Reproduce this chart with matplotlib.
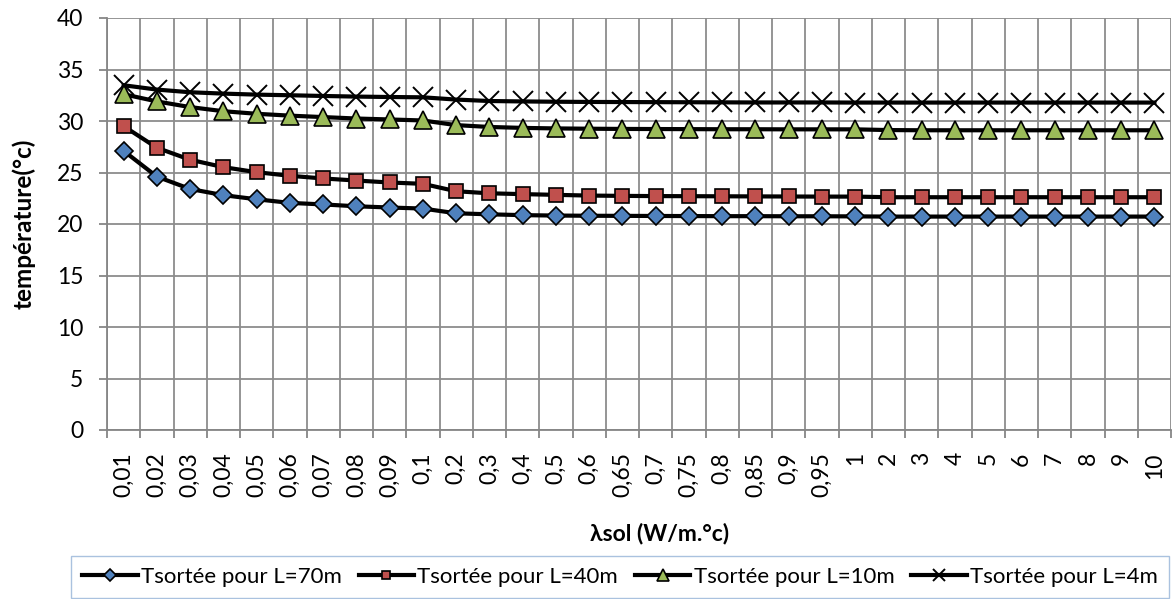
import matplotlib.pyplot as plt
import numpy as np

plt.rcParams['font.family'] = ['Lato', 'DejaVu Sans']

# Catégories (conductivité du sol)
categories = ['0,01', '0,02', '0,03', '0,04', '0,05', '0,06', '0,07', '0,08', '0,09', '0,1',
              '0,2', '0,3', '0,4', '0,5', '0,6', '0,65', '0,7', '0,75', '0,8', '0,85', '0,9', '0,95',
              '1', '2', '3', '4', '5', '6', '7', '8', '9', '10']

# Températures de sortie
t_70m = [27.1, 24.6, 23.4, 22.8, 22.4, 22.05, 21.9, 21.72, 21.6, 21.5,
         21.04, 20.94, 20.86, 20.82, 20.8, 20.79, 20.78, 20.77, 20.76, 20.76, 20.75, 20.75,
         20.74, 20.72, 20.72, 20.72, 20.72, 20.72, 20.72, 20.72, 20.72, 20.72]
t_40m = [29.5, 27.4, 26.24, 25.52, 25.03, 24.68, 24.42, 24.22, 24.03, 23.9,
         23.18, 22.98, 22.9, 22.83, 22.76, 22.73, 22.71, 22.7, 22.69, 22.68, 22.67, 22.66,
         22.66, 22.6, 22.6, 22.6, 22.6, 22.6, 22.6, 22.6, 22.6, 22.6]
t_10m = [32.6, 31.9, 31.35, 30.95, 30.7, 30.52, 30.38, 30.24, 30.15, 30.05,
         29.6, 29.42, 29.33, 29.28, 29.25, 29.23, 29.22, 29.21, 29.2, 29.2, 29.19, 29.19,
         29.19, 29.12, 29.1, 29.1, 29.1, 29.1, 29.1, 29.1, 29.1, 29.1]
t_4m = [33.47, 33.05, 32.79, 32.66, 32.56, 32.5, 32.43, 32.37, 32.33, 32.3,
        32.08, 31.94, 31.9, 31.87, 31.85, 31.84, 31.83, 31.82, 31.81, 31.8, 31.8, 31.8,
        31.79, 31.79, 31.79, 31.79, 31.79, 31.79, 31.79, 31.79, 31.79, 31.79]

x = np.arange(len(categories))

W, H = 1172, 599
fig = plt.figure(figsize=(W / 100, H / 100), dpi=100)
ax = fig.add_axes([107 / W, 1 - 430 / H, (1171 - 107) / W, (430 - 18) / H])

ax.plot(x, t_70m, color='black', lw=3, marker='D', ms=9.5, mfc='#4F81BD', mec='black', mew=1.2,
        label='Tsortée pour L=70m', zorder=3)
ax.plot(x, t_40m, color='black', lw=3, marker='s', ms=9.5, mfc='#C0504D', mec='black', mew=1.2,
        label='Tsortée pour L=40m', zorder=3)
ax.plot(x, t_10m, color='black', lw=3, marker='^', ms=13.5, mfc='#9BBB59', mec='black', mew=1.2,
        label='Tsortée pour L=10m', zorder=3)
ax.plot(x, t_4m, color='black', lw=3, marker='x', ms=14, mec='black', mew=1.4,
        label='Tsortée pour L=4m', zorder=3)

ax.set_xlim(-0.5, len(categories) - 0.5)
ax.set_ylim(0, 40)
ax.set_yticks(np.arange(0, 41, 5))
ax.set_xticks(x)
ax.set_xticklabels(categories, rotation=90, fontsize=16.5)
ax.set_xticks(np.arange(-0.5, len(categories), 1), minor=True)
ax.tick_params(axis='x', which='major', length=0, pad=16)
ax.tick_params(axis='x', which='minor', length=6, color='#868686', width=1.3)
ax.tick_params(axis='y', length=6, color='#868686', width=1.3, labelsize=16.5, pad=11)
ax.grid(False)
ax.grid(True, axis='y', color='#8C8C8C', lw=1.3)
ax.grid(True, axis='x', which='minor', color='#8C8C8C', lw=1.3)
for s in ['top', 'right']:
    ax.spines[s].set_visible(False)
for s in ['left', 'bottom']:
    ax.spines[s].set_color('#868686')
    ax.spines[s].set_linewidth(1.3)

ax.set_ylabel('température(°c)', fontsize=17.5, fontweight='bold', labelpad=15)
ax.set_xlabel('λsol (W/m.°c)', fontsize=16.5, fontweight='bold')
ax.xaxis.set_label_coords((660 - 107) / (1171 - 107), -0.225)

leg = fig.legend(loc='upper center', bbox_to_anchor=(620 / W, 1 - 556 / H),
                 ncol=4, fontsize=16, frameon=True, fancybox=False, markerscale=0.6,
                 handlelength=2.5, handletextpad=0.15, borderpad=0.5, columnspacing=0.75,
                 borderaxespad=0)
leg.get_frame().set_edgecolor('#95B3D7')
leg.get_frame().set_linewidth(1.0)

fig.savefig('out.png', dpi=100)
